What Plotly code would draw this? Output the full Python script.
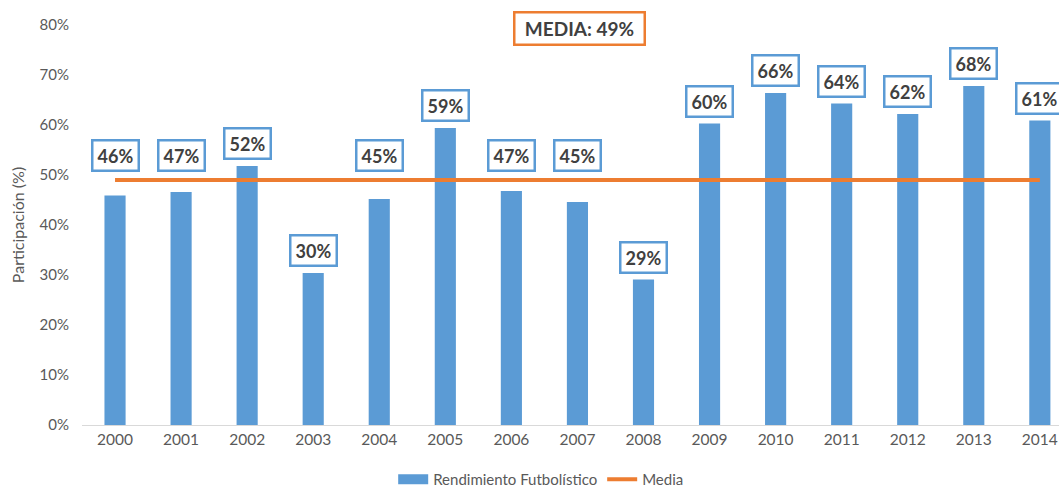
import plotly.graph_objects as go

years = ["2000", "2001", "2002", "2003", "2004", "2005", "2006", "2007",
         "2008", "2009", "2010", "2011", "2012", "2013", "2014"]
rendimiento = [45.9, 46.6, 51.8, 30.4, 45.2, 59.4, 46.8, 44.6,
               29.1, 60.3, 66.4, 64.3, 62.2, 67.8, 60.9]
media = 49.0
y_ticks = [0, 10, 20, 30, 40, 50, 60, 70, 80]

BLUE = "#5B9BD5"
ORANGE = "#ED7D31"
TXT = "#595959"
FONT = "Lato, 'Open Sans', sans-serif"

W, H = 1059, 491
M_L, M_R, M_T, M_B = 82, 0, 25, 66
Y_MAX = 80
px_per_unit = (H - M_T - M_B) / Y_MAX
BOX_H = 32  # label box height in px

fig = go.Figure()
fig.add_trace(go.Bar(
    x=years, y=rendimiento, name="Rendimiento Futbolístico",
    marker=dict(color=BLUE, line=dict(width=0)), width=0.32,
    showlegend=False,
))
# legend swatch for the bars (wide rectangle, as in the reference)
fig.add_trace(go.Scatter(
    x=[None], y=[None], name="Rendimiento Futbolístico", mode="lines",
    line=dict(color=BLUE, width=10),
))
fig.add_trace(go.Scatter(
    x=years, y=[media] * len(years), name="Media", mode="lines",
    line=dict(color=ORANGE, width=4),
))

for i, v in enumerate(rendimiento):
    overlaps = v < media and v + (BOX_H + 8) / px_per_unit > media
    fig.add_annotation(
        x=i, y=media if overlaps else v, xref="x", yref="y",
        text="<b>%d%%</b>" % round(v), showarrow=False,
        yanchor="bottom", yshift=8 if overlaps else 6,
        font=dict(family=FONT, size=18, color="#404040"),
        bgcolor="white", bordercolor=BLUE, borderwidth=2.5, borderpad=3,
        width=38, height=22,
    )

fig.add_annotation(
    x=(579 - M_L) / (W - M_L), y=1.0, xref="paper", yref="paper",
    text="<b>MEDIA: %d%%</b>" % round(media), showarrow=False,
    yanchor="middle", yshift=-3,
    font=dict(family=FONT, size=19, color="#404040"),
    bgcolor="white", bordercolor=ORANGE, borderwidth=2.5, borderpad=3,
    width=122, height=24,
)

fig.update_layout(
    width=W, height=H,
    margin=dict(l=M_L, r=M_R, t=M_T, b=M_B, autoexpand=False),
    paper_bgcolor="white", plot_bgcolor="white",
    font=dict(family=FONT, size=15, color=TXT),
    showlegend=True,
    legend=dict(orientation="h", x=0.47, xanchor="center", y=-0.136,
                yanchor="middle", font=dict(size=15, color=TXT),
                tracegroupgap=0, bgcolor="rgba(0,0,0,0)"),
    xaxis=dict(type="category", range=[-0.5, 14.29], showgrid=False,
               automargin=False,
               showline=True, linecolor="#D9D9D9", linewidth=1,
               ticks="", tickfont=dict(size=15.5, color=TXT)),
    yaxis=dict(range=[0, Y_MAX], tickvals=y_ticks,
               ticktext=["%d%%" % t for t in y_ticks],
               automargin=False,
               showgrid=False, zeroline=False, showline=False,
               ticks="", ticklabelstandoff=12,
               tickfont=dict(size=15, color=TXT),
               title=dict(text="Participación (%)", standoff=10,
                          font=dict(size=16, color=TXT))),
)

fig.write_html("out.html",
               config={"displayModeBar": False},
               post_script="document.body.style.margin='0';"
                           "document.body.style.overflow='hidden';")
